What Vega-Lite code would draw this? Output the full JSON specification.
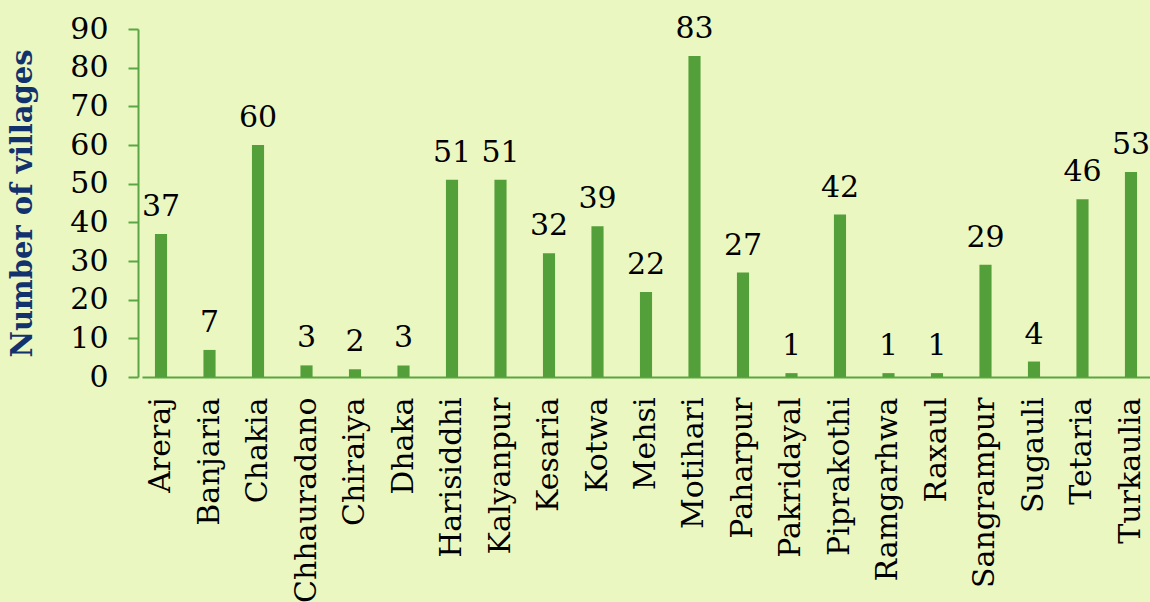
{
  "$schema": "https://vega.github.io/schema/vega-lite/v6.json",
  "width": 1008,
  "height": 348,
  "autosize": "none",
  "padding": {"left": 142, "top": 29, "right": 0, "bottom": 225},
  "background": "#ebf7c1",
  "config": {
    "view": {"stroke": null},
    "font": "DejaVu Serif"
  },
  "data": {
    "values": [
      {"block": "Areraj", "villages": 37},
      {"block": "Banjaria", "villages": 7},
      {"block": "Chakia", "villages": 60},
      {"block": "Chhauradano", "villages": 3},
      {"block": "Chiraiya", "villages": 2},
      {"block": "Dhaka", "villages": 3},
      {"block": "Harisiddhi", "villages": 51},
      {"block": "Kalyanpur", "villages": 51},
      {"block": "Kesaria", "villages": 32},
      {"block": "Kotwa", "villages": 39},
      {"block": "Mehsi", "villages": 22},
      {"block": "Motihari", "villages": 83},
      {"block": "Paharpur", "villages": 27},
      {"block": "Pakridayal", "villages": 1},
      {"block": "Piprakothi", "villages": 42},
      {"block": "Ramgarhwa", "villages": 1},
      {"block": "Raxaul", "villages": 1},
      {"block": "Sangrampur", "villages": 29},
      {"block": "Sugauli", "villages": 4},
      {"block": "Tetaria", "villages": 46},
      {"block": "Turkaulia", "villages": 53}
    ]
  },
  "encoding": {
    "x": {
      "field": "block",
      "type": "nominal",
      "sort": null,
      "scale": {"paddingInner": 0.75, "paddingOuter": 0.267},
      "axis": {
        "title": null,
        "labelAngle": -90,
        "labelAlign": "right",
        "labelBaseline": "middle",
        "labelFont": "DejaVu Serif",
        "labelFontSize": 30,
        "labelColor": "#000000",
        "labelPadding": 20,
        "ticks": false,
        "domainColor": "#5aa645",
        "domainWidth": 2,
        "labelLimit": 300
      }
    },
    "y": {
      "field": "villages",
      "type": "quantitative",
      "scale": {"domain": [0, 90], "nice": false},
      "axis": {
        "values": [0, 10, 20, 30, 40, 50, 60, 70, 80, 90],
        "title": "Number of villages",
        "titleFont": "DejaVu Serif",
        "titleFontSize": 29,
        "titleFontWeight": "bold",
        "titleColor": "#12326e",
        "titlePadding": 32,
        "labelFont": "DejaVu Serif",
        "labelFontSize": 30,
        "labelColor": "#000000",
        "labelPadding": 20,
        "labelBaseline": "middle",
        "tickSize": 10,
        "tickColor": "#5aa645",
        "tickWidth": 2,
        "domainColor": "#5aa645",
        "domainWidth": 2,
        "offset": 4,
        "grid": false
      }
    }
  },
  "layer": [
    {"mark": {"type": "bar", "color": "#539f3a"}},
    {
      "mark": {"type": "text", "baseline": "alphabetic", "dy": -18, "fontSize": 30, "font": "DejaVu Serif", "color": "#000000"},
      "encoding": {"text": {"field": "villages", "type": "quantitative"}}
    }
  ]
}
